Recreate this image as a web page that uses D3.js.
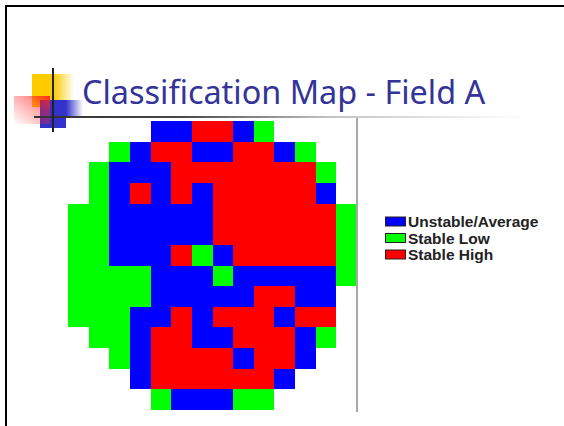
<!DOCTYPE html>
<html>
<head>
<meta charset="utf-8">
<script src="https://cdn.jsdelivr.net/npm/d3@7"></script>
<style>
    html, body { margin: 0; padding: 0; background: #fff; }
    svg { display: block; }
</style>
</head>
<body>
<div id="chart"></div>
<script>
const titleText = "Classification Map - Field A";

const classNames = ["Unstable/Average", "Stable Low", "Stable High"];
const classCodes = ["U", "L", "H"];
const classColors = ["#0000ff", "#00ff00", "#ff0000"];

// map, one string per row, "." = outside the field
const mapRows = [
    "....UUHHUL....",
    "..LUHHUUHHUL..",
    ".LUUUHHHHHHHL.",
    ".LUHUHUHHHHHU.",
    "LLUUUUUHHHHHHL",
    "LLUUUUUHHHHHHL",
    "LLUUUHLUHHHHHL",
    "LLLLUUULUUUUUL",
    "LLLLUUUUUHHUU.",
    "LLLUUHUHHHUHH.",
    ".LLUHHUUHHHUL.",
    "..LUHHHHUHHU..",
    "...UHHHHHHU...",
    "....LUUULL...."
];

const width = 564, height = 426;
const svg = d3.select("#chart").append("svg").attr("width", width).attr("height", height);
const defs = svg.append("defs");

function fadeGradient(id, color, stops, dir) {
    const g = defs.append("linearGradient").attr("id", id);
    if (dir) g.attr("x1", dir[0]).attr("y1", dir[1]).attr("x2", dir[2]).attr("y2", dir[3]);
    stops.forEach(function (s) {
        g.append("stop").attr("offset", s[0]).attr("stop-color", color).attr("stop-opacity", s[1]);
    });
}
fadeGradient("fadeYellow", "#ffcc00", [[0, 1], [0.52, 1], [1, 0]]);
fadeGradient("fadeBlue", "#3333cc", [[0, 1], [1, 0]]);
fadeGradient("fadeRed", "#ff2222", [[0, 0.95], [0.35, 0.45], [1, 0]], [1, 0, 0, 1]);
fadeGradient("fadeRule", "#333333", [[0, 1], [0.3, 0.9], [0.6, 0.3], [1, 0]]);

// slide frame
svg.append("line").attr("x1", 5).attr("x2", width).attr("y1", 6).attr("y2", 6).attr("stroke", "#000").attr("stroke-width", 2);
svg.append("line").attr("x1", 6).attr("x2", 6).attr("y1", 5).attr("y2", height).attr("stroke", "#000").attr("stroke-width", 2);

// bullet decoration
svg.append("rect").attr("x", 32).attr("y", 74).attr("width", 42).attr("height", 26).attr("fill", "url(#fadeYellow)");
svg.append("rect").attr("x", 32).attr("y", 100).attr("width", 8).attr("height", 7).attr("fill", "#ffcc00");
svg.append("rect").attr("x", 40).attr("y", 100).attr("width", 26).attr("height", 28).attr("fill", "#3333cc");
svg.append("rect").attr("x", 66).attr("y", 100).attr("width", 17).attr("height", 16).attr("fill", "url(#fadeBlue)");
svg.append("rect").attr("x", 14).attr("y", 96).attr("width", 36).attr("height", 28).attr("fill", "url(#fadeRed)");
svg.append("rect").attr("x", 34).attr("y", 116).attr("width", 490).attr("height", 2).attr("fill", "url(#fadeRule)");
svg.append("rect").attr("x", 52).attr("y", 68).attr("width", 2).attr("height", 64).attr("fill", "#222");

svg.append("text").attr("x", 82).attr("y", 104)
    .attr("font-family", "'Noto Sans', sans-serif").attr("font-size", 32.4)
    .attr("fill", "#333399").text(titleText);

// classification grid
const x = d3.scaleBand().domain(d3.range(mapRows[0].length)).range([68, 357]);
const y = d3.scaleBand().domain(d3.range(mapRows.length)).range([121, 410]);
const color = d3.scaleOrdinal().domain(classCodes).range(classColors);

const cells = [];
mapRows.forEach(function (row, r) {
    row.split("").forEach(function (code, c) {
        if (code !== ".") cells.push({row: r, col: c, code: code});
    });
});

svg.append("g").attr("shape-rendering", "crispEdges")
    .selectAll("rect").data(cells).join("rect")
    .attr("x", d => x(d.col)).attr("y", d => y(d.row))
    .attr("width", x.bandwidth()).attr("height", y.bandwidth())
    .attr("fill", d => color(d.code));

svg.append("line").attr("x1", 357).attr("x2", 357).attr("y1", 118).attr("y2", 412)
    .attr("stroke", "#a8a8a8").attr("stroke-width", 2);

// legend
const legendY = d3.scalePoint().domain(classNames).range([222, 255]);
const legend = svg.append("g").selectAll("g").data(classNames).join("g")
    .attr("transform", d => "translate(385," + legendY(d) + ")");
legend.append("rect").attr("y", -5).attr("x", 0.5).attr("width", 20).attr("height", 9)
    .attr("fill", (d, i) => classColors[i]).attr("stroke", "#222").attr("stroke-width", 1);
legend.append("text").attr("x", 23).attr("y", 5)
    .attr("font-family", "'Liberation Sans', Arial, sans-serif").attr("font-size", 15.5).attr("font-weight", "bold")
    .attr("fill", "#222").text(d => d);
</script>
</body>
</html>
